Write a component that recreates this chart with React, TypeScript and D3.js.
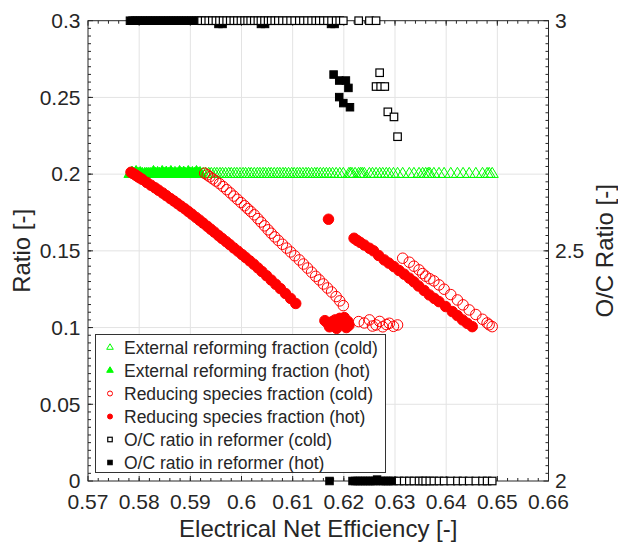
import React from 'react';
import * as d3 from 'd3';

// x = electrical net efficiency, y = ratio (left axis) or O/C ratio (right axis)
const xTicks = [0.57, 0.58, 0.59, 0.6, 0.61, 0.62, 0.63, 0.64, 0.65, 0.66];
const yTicks = [0, 0.05, 0.1, 0.15, 0.2, 0.25, 0.3];
const yRightTicks = [2, 2.5, 3];

const legendLabels = [
  'External reforming fraction (cold)',
  'External reforming fraction (hot)',
  'Reducing species fraction (cold)',
  'Reducing species fraction (hot)',
  'O/C ratio in reformer (cold)',
  'O/C ratio in reformer (hot)',
];

const extRefCold: [number, number][] = [
  [0.5925, 0.2], [0.593, 0.2], [0.5936, 0.2], [0.5941, 0.2], [0.5947, 0.2], [0.5952, 0.2], [0.5958, 0.2],
  [0.5963, 0.2], [0.5969, 0.2], [0.5975, 0.2], [0.598, 0.2], [0.5986, 0.2], [0.5991, 0.2], [0.5997, 0.2],
  [0.6003, 0.2], [0.6008, 0.2], [0.6014, 0.2], [0.6019, 0.2], [0.6025, 0.2], [0.6031, 0.2], [0.6036, 0.2],
  [0.6042, 0.2], [0.6047, 0.2], [0.6053, 0.2], [0.6058, 0.2], [0.6064, 0.2], [0.607, 0.2], [0.6075, 0.2],
  [0.6081, 0.2], [0.6086, 0.2], [0.6092, 0.2], [0.6098, 0.2], [0.6103, 0.2], [0.6109, 0.2], [0.6114, 0.2],
  [0.612, 0.2], [0.6126, 0.2], [0.6131, 0.2], [0.6137, 0.2], [0.6143, 0.2], [0.6148, 0.2], [0.6154, 0.2],
  [0.616, 0.2], [0.6166, 0.2], [0.6172, 0.2], [0.6178, 0.2], [0.6185, 0.2], [0.6192, 0.2], [0.6199, 0.2],
  [0.621, 0.2], [0.6213, 0.2], [0.6216, 0.2], [0.6222, 0.2], [0.6229, 0.2], [0.6233, 0.2], [0.6236, 0.2],
  [0.624, 0.2], [0.625, 0.2], [0.6256, 0.2], [0.6263, 0.2],
  [0.627, 0.2], [0.6276, 0.2], [0.6283, 0.2], [0.6289, 0.2], [0.6297, 0.2], [0.6305, 0.2], [0.6315, 0.2],
  [0.6328, 0.2], [0.6337, 0.2], [0.6347, 0.2], [0.6354, 0.2], [0.636, 0.2], [0.6365, 0.2], [0.6368, 0.2],
  [0.6376, 0.2], [0.6386, 0.2], [0.6396, 0.2], [0.6409, 0.2], [0.6422, 0.2], [0.6433, 0.2], [0.6445, 0.2],
  [0.6458, 0.2], [0.6471, 0.2], [0.648, 0.2], [0.6484, 0.2], [0.649, 0.2],
];

const extRefHot: [number, number][] = [
  [0.5782, 0.2], [0.5786, 0.2008], [0.579, 0.2], [0.5794, 0.2012], [0.5798, 0.2], [0.5802, 0.2005],
  [0.5806, 0.2], [0.5811, 0.2], [0.5815, 0.2], [0.5819, 0.2], [0.5823, 0.2], [0.5828, 0.2012],
  [0.5832, 0.2], [0.5836, 0.2006], [0.584, 0.2], [0.5845, 0.2012], [0.5849, 0.2], [0.5853, 0.2008],
  [0.5857, 0.2], [0.5862, 0.2012], [0.5866, 0.2], [0.587, 0.2006], [0.5874, 0.2], [0.5879, 0.2012],
  [0.5883, 0.2], [0.5887, 0.2008], [0.5891, 0.2], [0.5896, 0.2012], [0.59, 0.2], [0.5904, 0.2006],
  [0.5908, 0.2], [0.5912, 0.2012], [0.5916, 0.2], [0.5919, 0.2005],
];

const redCold: [number, number][] = [
  [0.5928, 0.2006], [0.5933, 0.1995], [0.5938, 0.1983], [0.5944, 0.1969], [0.595, 0.1955], [0.5957, 0.1938],
  [0.5964, 0.1919], [0.5971, 0.1899], [0.5978, 0.1878], [0.5985, 0.1857], [0.5992, 0.1836], [0.5999, 0.1815],
  [0.6006, 0.1794], [0.6012, 0.1775], [0.6018, 0.1757], [0.6025, 0.1735], [0.6032, 0.171], [0.6038, 0.1688],
  [0.6045, 0.1663], [0.6052, 0.1637], [0.6058, 0.1615], [0.6065, 0.1591], [0.6072, 0.1568], [0.608, 0.1543],
  [0.6088, 0.1518], [0.6096, 0.1493], [0.6104, 0.1468], [0.6113, 0.1441], [0.6121, 0.1414], [0.6129, 0.1388],
  [0.6137, 0.1361], [0.6145, 0.1334], [0.6152, 0.1311], [0.616, 0.1284], [0.6168, 0.1258], [0.6176, 0.1232],
  [0.6185, 0.1202], [0.6192, 0.1174], [0.6199, 0.1143],
  [0.6229, 0.1039], [0.624, 0.103], [0.625, 0.105], [0.6256, 0.101], [0.6263, 0.1017], [0.627, 0.104],
  [0.6276, 0.1005], [0.6283, 0.102], [0.6289, 0.1028], [0.6297, 0.1008], [0.6305, 0.1017],
  [0.6315, 0.1452], [0.6328, 0.1426], [0.6337, 0.14], [0.6347, 0.1376], [0.6354, 0.1352], [0.636, 0.1335],
  [0.6368, 0.1318], [0.6376, 0.1304], [0.6386, 0.1278], [0.6396, 0.125], [0.6409, 0.1215], [0.6422, 0.118],
  [0.6433, 0.1148], [0.6445, 0.1115], [0.6458, 0.1085], [0.6471, 0.1054], [0.648, 0.103], [0.6484, 0.1018],
  [0.649, 0.1006],
];

const redHot: [number, number][] = [
  [0.5784, 0.2012], [0.5788, 0.2004], [0.5793, 0.1994], [0.5797, 0.1985], [0.5801, 0.1976], [0.5806, 0.1966],
  [0.5815, 0.1946], [0.5823, 0.1928], [0.5831, 0.1911], [0.5838, 0.1895], [0.5846, 0.1877], [0.5853, 0.186],
  [0.5861, 0.1841], [0.5868, 0.1825], [0.5875, 0.1808], [0.5882, 0.1791], [0.5889, 0.1775], [0.5896, 0.1757],
  [0.5903, 0.1739], [0.5911, 0.1718], [0.5918, 0.17], [0.5925, 0.1681], [0.5933, 0.166], [0.594, 0.1641],
  [0.5947, 0.1622], [0.5955, 0.16], [0.5962, 0.1581], [0.597, 0.156], [0.5977, 0.1541], [0.5985, 0.1519],
  [0.5993, 0.1498], [0.6001, 0.1476], [0.6008, 0.1457], [0.6016, 0.1435], [0.6024, 0.1413], [0.6032, 0.1389],
  [0.604, 0.1365], [0.6049, 0.1338], [0.6058, 0.131], [0.6067, 0.1282], [0.6076, 0.1254], [0.6086, 0.1222],
  [0.6096, 0.119], [0.6106, 0.1157],
  [0.6163, 0.1045], [0.6168, 0.103], [0.6172, 0.1005], [0.6178, 0.104], [0.6183, 0.105], [0.6186, 0.0995],
  [0.6192, 0.106], [0.6197, 0.103], [0.6201, 0.1065], [0.6205, 0.1], [0.6208, 0.104], [0.621, 0.1015],
  [0.617, 0.1706],
  [0.622, 0.1582], [0.6226, 0.1568], [0.6232, 0.1555], [0.624, 0.1538], [0.625, 0.1517], [0.6258, 0.15],
  [0.6268, 0.147], [0.6279, 0.1441], [0.6288, 0.142], [0.6298, 0.1397], [0.6308, 0.1372], [0.6318, 0.1348],
  [0.6328, 0.1322], [0.6337, 0.1298], [0.6346, 0.1271], [0.6357, 0.1242], [0.6367, 0.1213], [0.6377, 0.119],
  [0.6386, 0.1169], [0.6399, 0.1137], [0.6412, 0.1104], [0.6422, 0.1078], [0.6432, 0.105], [0.6441, 0.1028],
  [0.6451, 0.1006],
];

const ocCold: [number, number][] = [
  [0.5922, 3], [0.5929, 3], [0.5936, 3], [0.5943, 3], [0.595, 3], [0.5957, 3], [0.5964, 3], [0.5971, 3],
  [0.5978, 3], [0.5985, 3], [0.5992, 3], [0.5999, 3], [0.6006, 3], [0.6012, 3], [0.6018, 3], [0.6025, 3],
  [0.6032, 3], [0.6038, 3], [0.6045, 3], [0.6052, 3], [0.6058, 3], [0.6065, 3], [0.6072, 3], [0.608, 3],
  [0.6088, 3], [0.6096, 3], [0.6104, 3], [0.6113, 3], [0.6121, 3], [0.6129, 3], [0.6137, 3], [0.6145, 3],
  [0.6152, 3], [0.616, 3], [0.6168, 3], [0.6176, 3], [0.6185, 3], [0.6192, 3], [0.6199, 3], [0.6229, 3],
  [0.625, 3], [0.6263, 3],
  [0.627, 2.887], [0.6263, 2.857], [0.6272, 2.857], [0.628, 2.857], [0.6286, 2.802], [0.6298, 2.791],
  [0.6305, 2.748],
  [0.6308, 2], [0.6318, 2], [0.6328, 2], [0.6337, 2], [0.6347, 2], [0.6354, 2], [0.636, 2], [0.6368, 2],
  [0.6376, 2], [0.6386, 2], [0.6396, 2], [0.6409, 2], [0.6422, 2], [0.6433, 2], [0.6445, 2], [0.6458, 2],
  [0.6471, 2], [0.648, 2], [0.649, 2],
];

const ocHot: [number, number][] = [
  [0.5782, 3], [0.5787, 3], [0.5792, 3], [0.5797, 3], [0.5802, 3], [0.5807, 3], [0.5812, 3], [0.5817, 3],
  [0.5822, 3], [0.5827, 3], [0.5832, 3], [0.5837, 3], [0.5842, 3], [0.5847, 3], [0.5852, 3], [0.5857, 3],
  [0.5862, 3], [0.5867, 3], [0.5872, 3], [0.5877, 3], [0.5882, 3], [0.5887, 3], [0.5892, 3], [0.5897, 3],
  [0.5902, 3], [0.5907, 3], [0.5912, 3], [0.5917, 3],
  [0.5955, 2.993], [0.5963, 2.993], [0.6038, 2.993], [0.6046, 2.993], [0.6175, 2.993], [0.6182, 2.993],
  [0.618, 2.883], [0.6191, 2.87], [0.6204, 2.87], [0.6209, 2.854], [0.6191, 2.834], [0.6199, 2.821],
  [0.6212, 2.812],
  [0.6172, 2], [0.6217, 2], [0.6222, 2], [0.6227, 2], [0.6232, 2], [0.6237, 2], [0.6242, 2], [0.6247, 2],
  [0.6252, 2], [0.6257, 2], [0.6262, 2], [0.6265, 2.003], [0.6272, 2], [0.6277, 2], [0.6282, 2], [0.6287, 2],
  [0.6292, 2], [0.6297, 2],
];

const W = 618;
const H = 544;
const FONT = '"Liberation Sans", Arial, Helvetica, sans-serif';
const INK = '#262626';
const GREEN = '#00ff00';
const RED = '#ff0000';

const x = d3.scaleLinear().domain([0.57, 0.66]).range([88, 548.5]);
const yL = d3.scaleLinear().domain([0, 0.3]).range([481, 20.7]);
const yR = d3.scaleLinear().domain([2, 3]).range([481, 20.7]);

const triPath = (cx: number, cy: number, s: number) =>
  `M${cx},${cy - s * 0.62}L${cx + s * 0.55},${cy + s * 0.3}L${cx - s * 0.55},${cy + s * 0.3}Z`;

const Marker = ({ kind, cx, cy, s }: { kind: string; cx: number; cy: number; s: number }) => {
  if (kind === 'triOpen') return <path d={triPath(cx, cy, s)} fill="none" stroke={GREEN} strokeWidth={1} />;
  if (kind === 'triFill') return <path d={triPath(cx, cy, s)} fill={GREEN} stroke={GREEN} strokeWidth={1} />;
  if (kind === 'cirOpen') return <circle cx={cx} cy={cy} r={s / 2} fill="none" stroke={RED} strokeWidth={1} />;
  if (kind === 'cirFill') return <circle cx={cx} cy={cy} r={s / 2} fill={RED} stroke={RED} strokeWidth={1} />;
  if (kind === 'sqOpen')
    return <rect x={cx - s / 2} y={cy - s / 2} width={s} height={s} fill="#fff" stroke="#000" strokeWidth={1.2} />;
  return <rect x={cx - s / 2} y={cy - s / 2} width={s} height={s} fill="#000" stroke="#000" strokeWidth={1} />;
};

export default function App() {
  const xMinor = d3.range(0.572, 0.66, 0.002);
  const yMinor = d3.range(0.005, 0.3, 0.005);
  const legendKinds = ['triOpen', 'triFill', 'cirOpen', 'cirFill', 'sqOpen', 'sqFill'];
  const legendSizes = [6, 6, 5, 5, 4.5, 4.5];

  return (
    <svg
      width={W}
      height={H}
      style={{ position: 'absolute', left: 0, top: 0, background: '#fff' }}
      fontFamily={FONT}
    >
      <rect width={W} height={H} fill="#fff" />
      {/* grid */}
      {xTicks.slice(1, -1).map((t) => (
        <line key={'gx' + t} x1={x(t)} x2={x(t)} y1={yL(0)} y2={yL(0.3)} stroke="#e3e3e3" />
      ))}
      {yTicks.slice(1, -1).map((t) => (
        <line key={'gy' + t} x1={x(0.57)} x2={x(0.66)} y1={yL(t)} y2={yL(t)} stroke="#e3e3e3" />
      ))}

      {/* axes box + ticks */}
      <rect x={x(0.57)} y={yL(0.3)} width={x(0.66) - x(0.57)} height={yL(0) - yL(0.3)} fill="none" stroke={INK} />
      {xMinor.map((t) => (
        <g key={'mx' + t} stroke={INK}>
          <line x1={x(t)} x2={x(t)} y1={yL(0)} y2={yL(0) - 3} />
          <line x1={x(t)} x2={x(t)} y1={yL(0.3)} y2={yL(0.3) + 3} />
        </g>
      ))}
      {xTicks.map((t) => (
        <g key={'tx' + t} stroke={INK}>
          <line x1={x(t)} x2={x(t)} y1={yL(0)} y2={yL(0) - 5} />
          <line x1={x(t)} x2={x(t)} y1={yL(0.3)} y2={yL(0.3) + 5} />
        </g>
      ))}
      {yMinor.map((t) => (
        <g key={'my' + t} stroke={INK}>
          <line x1={x(0.57)} x2={x(0.57) + 3} y1={yL(t)} y2={yL(t)} />
          <line x1={x(0.66)} x2={x(0.66) - 3} y1={yL(t)} y2={yL(t)} />
        </g>
      ))}
      {yTicks.map((t) => (
        <g key={'ty' + t} stroke={INK}>
          <line x1={x(0.57)} x2={x(0.57) + 5} y1={yL(t)} y2={yL(t)} />
        </g>
      ))}
      {yRightTicks.map((t) => (
        <line key={'tr' + t} x1={x(0.66)} x2={x(0.66) - 5} y1={yR(t)} y2={yR(t)} stroke={INK} />
      ))}

      {/* tick labels */}
      {xTicks.map((t) => (
        <text key={'lx' + t} x={x(t)} y={509} textAnchor="middle" fontSize={21} fill={INK}>
          {String(t)}
        </text>
      ))}
      {yTicks.map((t) => (
        <text key={'ly' + t} x={80.5} y={yL(t) + 7.3} textAnchor="end" fontSize={21} fill={INK}>
          {String(t)}
        </text>
      ))}
      {yRightTicks.map((t) => (
        <text key={'lr' + t} x={555} y={yR(t) + 7.3} textAnchor="start" fontSize={21} fill={INK}>
          {String(t)}
        </text>
      ))}

      {/* axis titles */}
      <text x={x(0.615)} y={537} textAnchor="middle" fontSize={24} fill={INK}>
        Electrical Net Efficiency [-]
      </text>
      <text transform={`translate(30,${yL(0.15)}) rotate(-90)`} textAnchor="middle" fontSize={24} fill={INK}>
        Ratio [-]
      </text>
      <text transform={`translate(613,${yR(2.5)}) rotate(-90)`} textAnchor="middle" fontSize={24} fill={INK}>
        O/C Ratio [-]
      </text>

      {/* data */}
      {extRefCold.map(([e, v], i) => (
        <Marker key={'tc' + i} kind="triOpen" cx={x(e)} cy={yL(v)} s={11} />
      ))}
      {extRefHot.map(([e, v], i) => (
        <Marker key={'th' + i} kind="triFill" cx={x(e)} cy={yL(v)} s={11} />
      ))}
      {redCold.map(([e, v], i) => (
        <Marker key={'rc' + i} kind="cirOpen" cx={x(e)} cy={yL(v)} s={10.5} />
      ))}
      {redHot.map(([e, v], i) => (
        <Marker key={'rh' + i} kind="cirFill" cx={x(e)} cy={yL(v)} s={10.5} />
      ))}
      {ocHot.map(([e, v], i) => (
        <Marker key={'sh' + i} kind="sqFill" cx={x(e)} cy={yR(v)} s={7.5} />
      ))}
      {ocCold.map(([e, v], i) => (
        <Marker key={'sc' + i} kind="sqOpen" cx={x(e)} cy={yR(v)} s={7.5} />
      ))}

      {/* legend */}
      <rect x={95.5} y={334.5} width={290} height={138} fill="#fff" stroke="#333" strokeWidth={1} />
      {legendLabels.map((label, i) => {
        const cy = 347.5 + i * 23;
        return (
          <g key={'lg' + i}>
            <Marker kind={legendKinds[i]} cx={110} cy={cy} s={legendSizes[i]} />
            <text x={124} y={cy + 6} fontSize={17.5} fill={INK}>
              {label}
            </text>
          </g>
        );
      })}
    </svg>
  );
}
